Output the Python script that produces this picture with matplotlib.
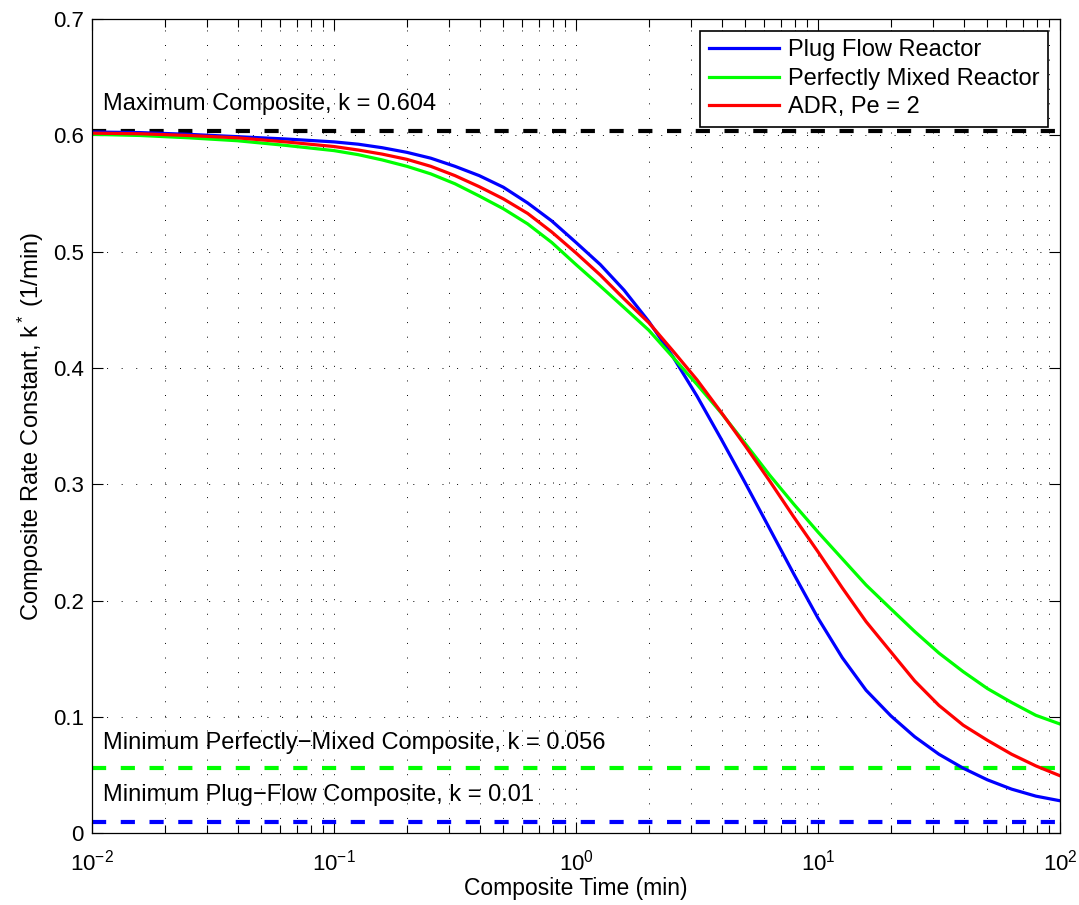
import matplotlib
matplotlib.use("Agg")
import matplotlib.pyplot as plt
from matplotlib.ticker import LogLocator, NullLocator

plt.rcParams['font.family'] = ['Liberation Sans', 'DejaVu Sans']
plt.rcParams['mathtext.fontset'] = 'custom'
plt.rcParams['mathtext.rm'] = 'Liberation Sans'
plt.rcParams['mathtext.it'] = 'Liberation Sans:italic'

# ---- data ----
tempo = [0.01, 0.0158, 0.0251, 0.0398, 0.0631,
         0.1, 0.126, 0.158, 0.2, 0.251, 0.316, 0.398, 0.501, 0.631, 0.794,
         1.0, 1.26, 1.58, 2.0, 2.51, 3.16, 3.98, 5.01, 6.31, 7.94,
         10.0, 12.6, 15.8, 20.0, 25.1, 31.6, 39.8, 50.1, 63.1, 79.4, 100.0]

k_pfr = [0.603, 0.6025, 0.601, 0.599, 0.597,
         0.5945, 0.5925, 0.5895, 0.5855, 0.5805, 0.5735, 0.5655, 0.5555, 0.542, 0.5265,
         0.508, 0.489, 0.467, 0.440, 0.410, 0.376, 0.339, 0.301, 0.262, 0.223,
         0.185, 0.151, 0.123, 0.101, 0.083, 0.068, 0.056, 0.046, 0.038, 0.032, 0.028]

k_pmr = [0.601, 0.600, 0.598, 0.5955, 0.5915,
         0.587, 0.5835, 0.579, 0.5735, 0.567, 0.5585, 0.548, 0.537, 0.524, 0.508,
         0.489, 0.4705, 0.452, 0.4325, 0.4095, 0.386, 0.3615, 0.335, 0.308, 0.283,
         0.259, 0.236, 0.2135, 0.193, 0.1735, 0.155, 0.139, 0.1245, 0.1125, 0.1015, 0.094]

k_adr = [0.602, 0.6015, 0.600, 0.598, 0.5945,
         0.5905, 0.5875, 0.584, 0.5795, 0.5735, 0.5655, 0.556, 0.5455, 0.533, 0.517,
         0.499, 0.480, 0.4595, 0.439, 0.415, 0.390, 0.362, 0.333, 0.303, 0.272,
         0.242, 0.211, 0.182, 0.156, 0.131, 0.110, 0.093, 0.080, 0.068, 0.058, 0.0495]

nomes = ["Plug Flow Reactor", "Perfectly Mixed Reactor", "ADR, Pe = 2"]

k_max = 0.604
k_min_pmr = 0.056
k_min_pfr = 0.01
x_lim = [0.01, 100]

# ---- figure ----
fig = plt.figure(figsize=(10.79, 9.05), dpi=100)
ax = fig.add_axes([0.0853, 0.0792, 0.8971, 0.8996])

estilo_grade = dict(color='k', linestyle=(0, (1, 14)), linewidth=0.7)
ax.grid(True, which='major', axis='both', **estilo_grade)
ax.grid(True, which='minor', axis='x', **estilo_grade)
ax.set_axisbelow(True)

tracos = dict(linewidth=3, dashes=(3.4, 3.5))
ax.plot(x_lim, [k_max, k_max], color='k', **tracos)
ax.plot(x_lim, [k_min_pmr, k_min_pmr], color=(0, 1, 0), **tracos)
ax.plot(x_lim, [k_min_pfr, k_min_pfr], color=(0, 0, 1), **tracos)

ax.plot(tempo, k_pfr, color=(0, 0, 1), linewidth=2.3, label=nomes[0])
ax.plot(tempo, k_pmr, color=(0, 1, 0), linewidth=2.3, label=nomes[1])
ax.plot(tempo, k_adr, color=(1, 0, 0), linewidth=2.3, label=nomes[2])

fs = 16
fs_txt = 17
ax.text(0.01107, 0.6219, "Maximum Composite, k = 0.604", fontsize=fs_txt, va='baseline')
ax.text(0.01107, 0.0722, "Minimum Perfectly\u2212Mixed Composite, k = 0.056", fontsize=fs_txt, va='baseline')
ax.text(0.01107, 0.0280, "Minimum Plug\u2212Flow Composite, k = 0.01", fontsize=fs_txt, va='baseline')

ax.set_xscale('log')
ax.set_xlim(x_lim)
ax.set_ylim(0, 0.7)
ax.set_yticks([0, 0.1, 0.2, 0.3, 0.4, 0.5, 0.6, 0.7])
ax.set_yticklabels(["0", "0.1", "0.2", "0.3", "0.4", "0.5", "0.6", "0.7"])
ax.xaxis.set_major_locator(LogLocator(base=10, numticks=10))
ax.xaxis.set_minor_locator(LogLocator(base=10, subs=range(2, 10), numticks=20))
ax.yaxis.set_minor_locator(NullLocator())

ax.tick_params(which='both', direction='in', top=True, right=True, labelsize=fs, width=0.8)
ax.tick_params(which='major', length=8)
ax.tick_params(which='minor', length=6)
ax.tick_params(axis='x', which='major', pad=12)
ax.tick_params(axis='y', which='major', pad=6)
for s in ax.spines.values():
    s.set_linewidth(0.9)

ax.set_xlabel("Composite Time (min)", fontsize=16.5, labelpad=1)
ax.set_ylabel(r"Composite Rate Constant, k$^*$ (1/min)", fontsize=17, labelpad=5)

leg = ax.legend(loc='upper right', bbox_to_anchor=(0.9873, 0.9855), borderaxespad=0,
                fontsize=17, fancybox=False, framealpha=1, edgecolor='k',
                handlelength=2.97, handletextpad=0.38, labelspacing=0.27, borderpad=0.36)
leg.get_frame().set_linewidth(1.2)

fig.savefig("out.png", dpi=100)
